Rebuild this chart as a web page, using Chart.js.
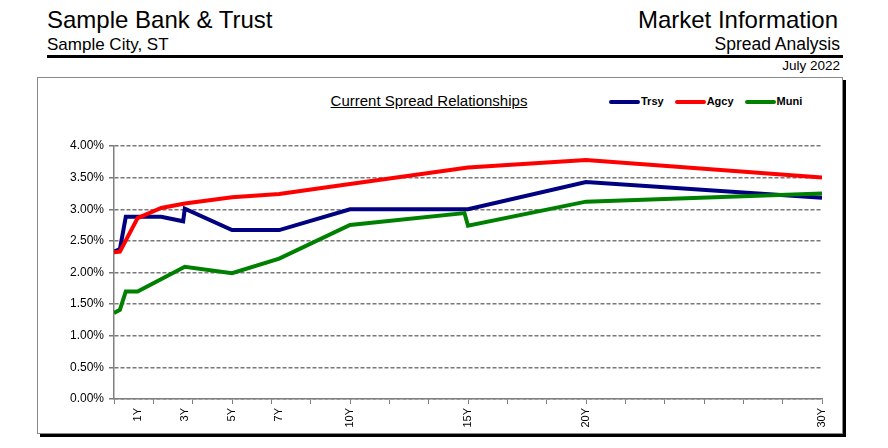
<!DOCTYPE html>
<html>
<head>
<meta charset="utf-8">
<script src="https://cdn.jsdelivr.net/npm/chart.js@4.4.1/dist/chart.umd.min.js"></script>
<style>
  body { margin:0; width:888px; height:448px; background:#fff; position:relative; overflow:hidden;
         font-family:"Liberation Sans", Arial, sans-serif; color:#000; }
  .t { position:absolute; line-height:1; white-space:nowrap; }
  #frame { position:absolute; left:37px; top:77px; width:804px; height:355px;
           border:1px solid #8a8a8a; box-shadow:3px 3px 0 #000; }
  #rule { position:absolute; left:47px; top:55px; width:796px; height:3px; background:#000; }
  #legend { position:absolute; left:609px; top:96px; display:flex; font-weight:bold; font-size:11px; line-height:11px; }
  #legend .item { display:flex; align-items:center; margin-right:11px; }
  #legend .sw { width:31px; height:4px; border-radius:2px; margin-right:1px; }
  canvas { position:absolute; left:0; top:0; }
</style>
</head>
<body>
<div class="t" style="left:47px;top:8px;font-size:24px;">Sample Bank &amp; Trust</div>
<div class="t" style="right:50px;top:8px;font-size:24px;">Market Information</div>
<div class="t" style="left:47px;top:36px;font-size:17px;">Sample City, ST</div>
<div class="t" style="right:48px;top:36px;font-size:17.5px;">Spread Analysis</div>
<div id="rule"></div>
<div class="t" style="right:48px;top:59px;font-size:13.5px;">July 2022</div>
<div id="frame"></div>
<div class="t" style="left:429px;top:93px;font-size:15px;transform:translateX(-50%);text-decoration:underline;">Current Spread Relationships</div>
<div id="legend"></div>
<canvas id="spreadChart" width="888" height="448"></canvas>
<script>
// maturities in years, rates in percent
const trsyYears = [0, 0.25, 0.5, 1, 2, 2.93, 3, 5, 7, 10, 15, 20, 30];
const trsyRates = [2.33, 2.37, 2.88, 2.88, 2.88, 2.81, 3.01, 2.67, 2.67, 3.00, 3.00, 3.43, 3.18];

const agcyYears = [0, 0.25, 1, 2, 3, 5, 7, 10, 15, 20, 30];
const agcyRates = [2.32, 2.33, 2.86, 3.02, 3.09, 3.19, 3.24, 3.40, 3.66, 3.78, 3.50];

const muniYears = [0, 0.25, 0.5, 1, 3, 5, 7, 10, 14.85, 15, 20, 30];
const muniRates = [1.36, 1.41, 1.70, 1.70, 2.09, 1.99, 2.22, 2.75, 2.94, 2.74, 3.12, 3.25];

const seriesNames = ['Trsy', 'Agcy', 'Muni'];

const tickLabelYears = [1, 3, 5, 7, 10, 15, 20, 30];
const tickLabels = ['1Y', '3Y', '5Y', '7Y', '10Y', '15Y', '20Y', '30Y'];
const xMax = 30;
const tickMarkSteps = 18;

const toPoints = (xs, ys) => xs.map((x, i) => ({ x: x, y: ys[i] }));
const near = (a, b) => Math.abs(a - b) < 1e-6;
const isMark = v => near(v / (xMax / tickMarkSteps), Math.round(v / (xMax / tickMarkSteps)));

const colors = ['#000080', '#ff0000', '#008000'];
const pts = [toPoints(trsyYears, trsyRates), toPoints(agcyYears, agcyRates), toPoints(muniYears, muniRates)];

const legend = document.getElementById('legend');
seriesNames.forEach((n, i) => {
  const it = document.createElement('div');
  it.className = 'item';
  it.innerHTML = '<span class="sw" style="background:' + colors[i] + '"></span><span>' + n + '</span>';
  legend.appendChild(it);
});

const ctx = document.getElementById('spreadChart');
new Chart(ctx, {
  type: 'line',
  data: {
    datasets: seriesNames.map((n, i) => ({
      label: n,
      data: pts[i],
      borderColor: colors[i],
      backgroundColor: colors[i],
      borderWidth: 4,
      pointRadius: 0,
      tension: 0,
      order: 3 - i
    }))
  },
  options: {
    responsive: false,
    animation: false,
    layout: { padding: { top: 146, right: 66, bottom: 19, left: 0 } },
    plugins: { legend: { display: false }, tooltip: { enabled: false } },
    scales: {
      x: {
        type: 'linear',
        min: 0,
        max: xMax,
        afterBuildTicks: (scale) => {
          const vals = [];
          for (let i = 0; i <= tickMarkSteps; i++) vals.push(i * xMax / tickMarkSteps);
          tickLabelYears.forEach(v => { if (!vals.some(m => near(m, v))) vals.push(v); });
          vals.sort((a, b) => a - b);
          scale.ticks = vals.map(v => ({ value: v }));
        },
        afterFit: (scale) => { scale.height = 30; },
        ticks: {
          autoSkip: false,
          minRotation: 90,
          maxRotation: 90,
          padding: 4,
          color: '#000',
          font: { family: '"Liberation Sans", Arial, sans-serif', size: 11 },
          callback: (value) => {
            const i = tickLabelYears.findIndex(y => near(y, value));
            return i >= 0 ? tickLabels[i] : '';
          }
        },
        grid: {
          drawOnChartArea: false,
          tickLength: 5,
          tickColor: (c) => (c.tick && isMark(c.tick.value)) ? '#808080' : 'rgba(0,0,0,0)'
        },
        border: { color: '#808080', width: 1.5 }
      },
      y: {
        min: 0,
        max: 4,
        afterFit: (scale) => { scale.width = 114; },
        ticks: {
          stepSize: 0.5,
          padding: 5,
          color: '#000',
          font: { family: '"Liberation Sans", Arial, sans-serif', size: 12 },
          callback: (v) => v.toFixed(2) + '%'
        },
        grid: { color: '#787878', lineWidth: 1.5, tickLength: 5 },
        border: { color: '#808080', width: 1.5, dash: [4, 2] }
      }
    }
  }
});
</script>
</body>
</html>
